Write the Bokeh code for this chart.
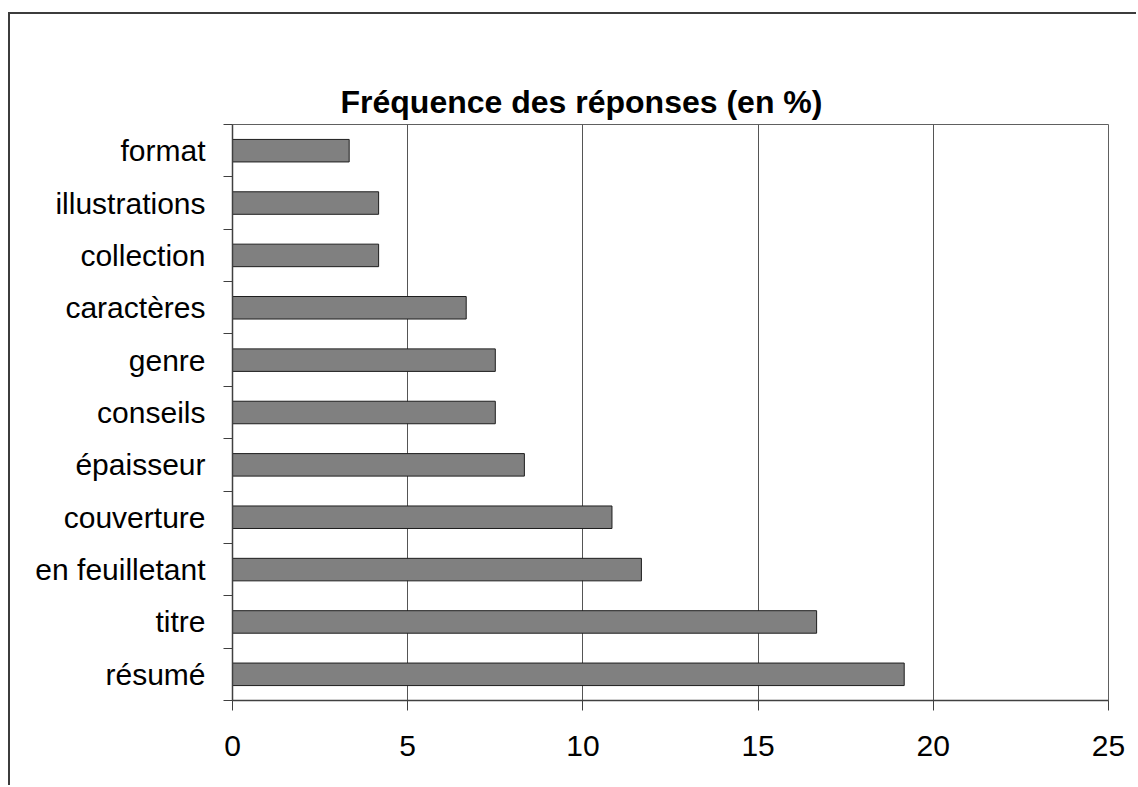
from bokeh.plotting import figure
from bokeh.models import Range1d, FixedTicker, LinearAxis
from bokeh.embed import file_html
from bokeh.resources import INLINE

# ---- data ----
categories = ["résumé", "titre", "en feuilletant", "couverture", "épaisseur",
              "conseils", "genre", "caractères", "collection", "illustrations",
              "format"]
values = [19.17, 16.67, 11.67, 10.83, 8.33, 7.5, 7.5, 6.67, 4.17, 4.17, 3.33]
x_ticks = [0, 5, 10, 15, 20, 25]
title_text = "Fréquence des réponses (en %)"

FONT = "Liberation Sans"
n = len(categories)
centers = [i + 0.5 for i in range(n)]
bounds = list(range(n + 1))

p = figure(width=1128, height=773,
           y_range=Range1d(0, n),
           x_range=Range1d(0, 25),
           output_backend="svg", toolbar_location=None,
           min_border_left=222, min_border_right=30,
           min_border_top=110, min_border_bottom=87)
p.styles = {"margin-left": "8px", "margin-top": "12px",
            "border-left": "2px solid #3c3c3c", "border-top": "2px solid #3c3c3c"}

p.outline_line_color = "#606060"
p.outline_line_width = 1
p.background_fill_color = "white"
p.border_fill_color = "white"

# bottom x axis (grab before adding the spacer above)
xa = p.below[0]

# invisible spacer between plot area and title
spacer = LinearAxis(ticker=FixedTicker(ticks=x_ticks[:1], minor_ticks=[]),
                    major_label_text_font=FONT,
                    major_label_text_font_size="30px",
                    major_label_text_alpha=0,
                    major_label_standoff=21,
                    major_tick_out=0, major_tick_in=0,
                    minor_tick_out=0, minor_tick_in=0,
                    axis_line_color=None, major_tick_line_color=None,
                    minor_tick_line_color=None)
p.add_layout(spacer, "above")

# title
p.title.text = title_text
p.title.text_font = FONT
p.title.text_font_size = "32px"
p.title.text_font_style = "bold"
p.title.text_color = "black"
p.title.align = "left"
p.title.offset = 108
p.title.standoff = 10

# bars
p.hbar(y=centers, right=values, left=0, height=0.43,
       fill_color="#808080", line_color="#1e1e1e", line_width=1)

# x axis
xa.ticker = FixedTicker(ticks=x_ticks, minor_ticks=[])
xa.major_tick_out = 10
xa.major_tick_in = 0
xa.minor_tick_out = 0
xa.minor_tick_in = 0
xa.axis_line_color = "#404040"
xa.axis_line_width = 1.5
xa.major_tick_line_color = "#404040"
xa.major_label_text_font = FONT
xa.major_label_text_font_size = "30px"
xa.major_label_text_color = "black"
xa.major_label_standoff = 25

p.xgrid.ticker = FixedTicker(ticks=x_ticks)
p.xgrid.grid_line_color = "#555555"
p.xgrid.grid_line_width = 1
p.ygrid.visible = False

# y axis: labels at category centres, tick marks at category boundaries
ya = p.left[0]
ya.ticker = FixedTicker(ticks=centers, minor_ticks=bounds)
ya.major_label_overrides = {c: name for c, name in zip(centers, categories)}
ya.major_tick_out = 0
ya.major_tick_in = 0
ya.minor_tick_out = 9
ya.minor_tick_in = 0
ya.minor_tick_line_color = "#404040"
ya.axis_line_color = "#404040"
ya.axis_line_width = 1.5
ya.major_label_text_font = FONT
ya.major_label_text_font_size = "30px"
ya.major_label_text_color = "black"
ya.major_label_standoff = 18

open("out.html", "w").write(file_html(p, INLINE))
